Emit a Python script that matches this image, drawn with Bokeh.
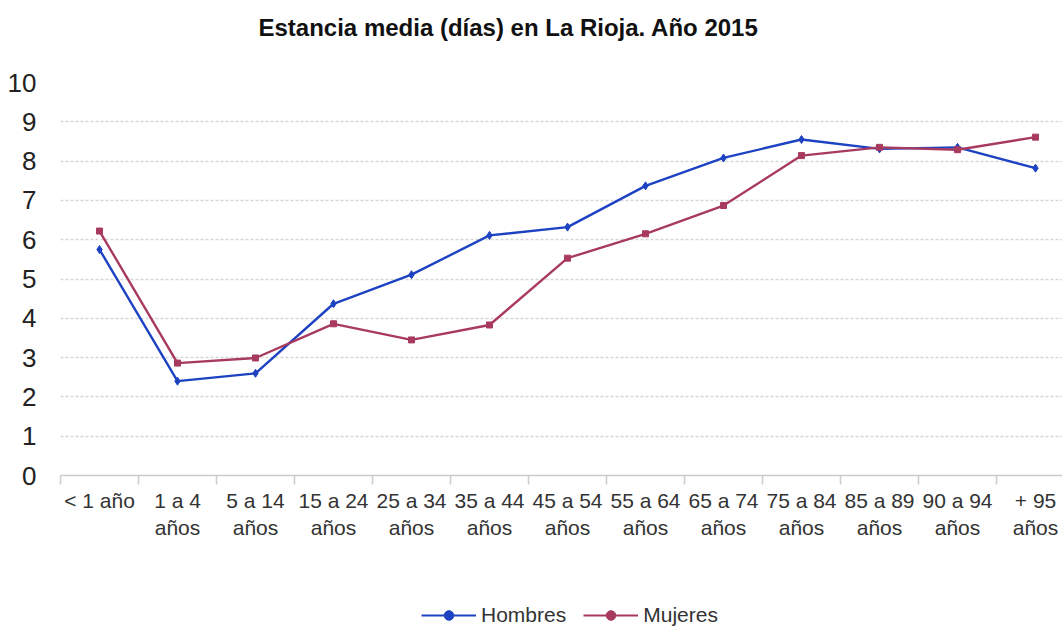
from bokeh.plotting import figure
from bokeh.models import FixedTicker, Legend, LegendItem, Range1d, Label
from bokeh.layouts import column
from bokeh.embed import file_html
from bokeh.resources import INLINE

title_text = "Estancia media (días) en La Rioja. Año 2015"
categories = ["< 1 año", "1 a 4\naños", "5 a 14\naños", "15 a 24\naños", "25 a 34\naños",
              "35 a 44\naños", "45 a 54\naños", "55 a 64\naños", "65 a 74\naños",
              "75 a 84\naños", "85 a 89\naños", "90 a 94\naños", "+ 95\naños"]
series_names = ["Hombres", "Mujeres"]
hombres = [5.75, 2.40, 2.60, 4.37, 5.11, 6.11, 6.32, 7.37, 8.08, 8.55, 8.31, 8.35, 7.82]
mujeres = [6.22, 2.86, 2.99, 3.86, 3.45, 3.83, 5.53, 6.15, 6.87, 8.14, 8.35, 8.29, 8.61]
y_ticks = list(range(0, 11))

BLUE = "#1d42c2"
RED = "#a83a60"
FONT = "Liberation Sans"

xs = list(range(len(categories)))


def blank(h):
    f = figure(width=1062, height=h, output_backend="svg", toolbar_location=None,
               x_range=Range1d(0, 1), y_range=Range1d(0, 1))
    f.axis.visible = False
    f.grid.visible = False
    f.outline_line_color = None
    f.min_border = 0
    f.border_fill_color = "white"
    f.background_fill_color = "white"
    return f


# title strip
t = blank(67)
t.add_layout(Label(x=198, y=40, x_units="screen", y_units="screen", text=title_text,
                   text_font=FONT, text_font_size="24px", text_font_style="bold",
                   text_color="#111111", text_baseline="alphabetic"))

# main chart
p = figure(width=1062, height=523, output_backend="svg", toolbar_location=None,
           x_range=Range1d(-0.5, 12.346), y_range=Range1d(0, 10))
p.min_border_left = 60
p.min_border_right = 0
p.min_border_top = 15
p.min_border_bottom = 115
p.outline_line_color = None
p.background_fill_color = "white"
p.border_fill_color = "white"

xa = p.xaxis[0]
xa.ticker = FixedTicker(ticks=xs, minor_ticks=[i - 0.5 for i in range(len(categories) + 1)])
xa.major_label_overrides = {i: c for i, c in enumerate(categories)}
xa.major_tick_line_color = None
xa.minor_tick_out = 9
xa.minor_tick_in = 0
xa.minor_tick_line_color = "#cccccc"
xa.minor_tick_line_width = 1.5
xa.axis_line_color = "#cccccc"
xa.axis_line_width = 1.5
xa.major_label_text_font = FONT
xa.major_label_text_font_size = "21px"
xa.major_label_text_color = "#333333"
xa.major_label_standoff = 4

ya = p.yaxis[0]
ya.ticker = FixedTicker(ticks=y_ticks)
ya.axis_line_color = None
ya.major_tick_line_color = None
ya.minor_tick_line_color = None
ya.major_label_text_font = FONT
ya.major_label_text_font_size = "26px"
ya.major_label_text_color = "#222222"
ya.major_label_standoff = 18

p.xgrid.grid_line_color = None
p.ygrid.ticker = FixedTicker(ticks=y_ticks[1:])
p.ygrid.grid_line_color = "#d6d6d6"
p.ygrid.grid_line_width = 1.5
p.ygrid.grid_line_dash = "3 2"

p.line(xs, hombres, line_color=BLUE, line_width=2.4)
p.scatter(xs, hombres, marker="diamond", size=8, fill_color=BLUE, line_color=BLUE)
p.line(xs, mujeres, line_color=RED, line_width=2.4)
p.scatter(xs, mujeres, marker="square", size=6, fill_color=RED, line_color=RED)

# legend strip
q = blank(43)
items = []
for name, col in zip(series_names, [BLUE, RED]):
    # placeholder glyphs outside the visible range, only used for the legend swatches
    l = q.line([5, 6], [5, 5], line_color=col, line_width=2.2)
    m = q.scatter([5], [5], marker="circle", size=3, fill_color=col, line_color=col)
    items.append(LegendItem(label=name, renderers=[l, m]))

legend = Legend(items=items, orientation="horizontal", location=(361, 6))
legend.label_text_font = FONT
legend.label_text_font_size = "21px"
legend.label_text_color = "#333333"
legend.border_line_color = None
legend.background_fill_alpha = 0
legend.glyph_width = 55
legend.label_standoff = 5
legend.spacing = 17
legend.margin = 0
legend.padding = 0
legend.label_height = 24
legend.glyph_height = 24
q.add_layout(legend, "center")

open("out.html", "w").write(file_html(column(t, p, q, spacing=0), INLINE))
